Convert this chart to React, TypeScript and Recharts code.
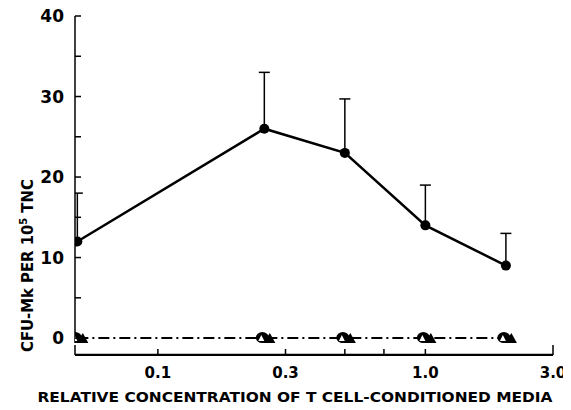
import React from 'react';
import { ComposedChart, Line, XAxis, YAxis, ErrorBar, ReferenceLine } from 'recharts';

const concentrations = [0.05, 0.25, 0.5, 1.0, 2.0];
const cfuMk = [12, 26, 23, 14, 9];
const cfuMkError = [6, 7, 6.7, 5, 4];
const controlCfuMk = [0, 0, 0, 0, 0];
const xTicks = [0.049, 0.1, 0.3, 0.5, 0.7, 1.0, 3.0];
const xTickLabels = ['', '0.1', '0.3', '', '', '1.0', '3.0'];
const yTicks = [0, 5, 10, 15, 20, 25, 30, 35, 40];
const yTickLabels = ['0', '', '10', '', '20', '', '30', '', '40'];

const Y_MIN = -2.6;
const X_AXIS_Y = -2.1;
const X_MIN = 0.049;
const X_MAX = 3.0;

const data = concentrations.map((x, i) => ({
  x,
  y: cfuMk[i],
  err: [0, cfuMkError[i]],
  top: cfuMk[i] + cfuMkError[i],
  ctrl: controlCfuMk[i],
}));

const FONT = '"DejaVu Sans", sans-serif';

const YTick = (props: any) => {
  const { x, y, index } = props;
  const label = yTickLabels[index];
  return (
    <g>
      <line x1={x} y1={y} x2={x + 6} y2={y} stroke="#000" strokeWidth={1.5} />
      {label ? (
        <text x={x - 11} y={y} dy="0.36em" textAnchor="end" fontFamily={FONT} fontWeight="bold" fontSize={17} fill="#000">
          {label}
        </text>
      ) : null}
    </g>
  );
};

const XTick = (props: any) => {
  const { x, y, index } = props;
  const label = xTickLabels[index];
  const len = index === 0 || index === xTicks.length - 1 ? 10 : 6;
  return (
    <g>
      <line x1={x} y1={y - 4} x2={x} y2={y - 4 - len} stroke="#000" strokeWidth={1.5} />
      {label ? (
        <text x={x} y={y + 19} textAnchor="middle" fontFamily={FONT} fontWeight="bold" fontSize={15} fill="#000">
          {label}
        </text>
      ) : null}
    </g>
  );
};

const XLabel = () => (
  <text x={287} y={402} textAnchor="middle" fontFamily={FONT} fontWeight="bold" fontSize={14.5} fill="#000" textLength={515} lengthAdjust="spacingAndGlyphs">
    RELATIVE CONCENTRATION OF T CELL-CONDITIONED MEDIA
  </text>
);

const YLabel = () => (
  <text transform="translate(25, 352) rotate(-90) scale(0.9, 1)" x={0} y={0} textAnchor="start" fontFamily={FONT} fontWeight="bold" fontSize={16.5} fill="#000">
    CFU-Mk PER 10<tspan dy={-6} fontSize={11}>5</tspan><tspan dy={6}> TNC</tspan>
  </text>
);

const MainDot = (props: any) => {
  const { cx, cy } = props;
  if (cx == null || cy == null) return null;
  return <circle cx={cx} cy={cy} r={5} fill="#000" />;
};

const CapDot = (props: any) => {
  const { cx, cy } = props;
  if (cx == null || cy == null) return null;
  return <line x1={cx - 5.5} y1={cy} x2={cx + 5.5} y2={cy} stroke="#000" strokeWidth={1.5} />;
};

const CtrlDot = (props: any) => {
  const { cx, cy } = props;
  if (cx == null || cy == null) return null;
  return (
    <g>
      <ellipse cx={cx - 2} cy={cy - 0.5} rx={6.5} ry={5.5} fill="#000" />
      <polygon points={`${cx - 6},${cy + 3} ${cx - 3},${cy - 3} ${cx},${cy + 3}`} fill="#fff" />
      <polygon points={`${cx - 1},${cy + 5} ${cx + 5.5},${cy - 5} ${cx + 11},${cy + 5}`} fill="#000" />
    </g>
  );
};

export default function App() {
  return (
    <div style={{ marginTop: -8 }}>
      <ComposedChart
        width={571}
        height={410}
        data={data}
        margin={{ top: 16, right: 26, bottom: 21, left: 7 }}
      >
        <XAxis
          dataKey="x"
          type="number"
          scale="log"
          domain={[X_MIN, X_MAX]}
          allowDataOverflow
          ticks={xTicks}
          interval={0}
          tickSize={0}
          tickMargin={0}
          tickLine={false}
          tick={<XTick />}
          axisLine={false}
          height={30}
          label={{ content: <XLabel /> }}
        />
        <YAxis
          type="number"
          domain={[Y_MIN, 40]}
          allowDataOverflow
          ticks={yTicks}
          interval={0}
          tickSize={0}
          tickMargin={0}
          tickLine={false}
          tick={<YTick />}
          axisLine={false}
          width={60}
          label={{ content: <YLabel /> }}
        />
        <ReferenceLine
          segment={[{ x: X_MIN, y: -0.6 }, { x: X_MIN, y: 40 }]}
          stroke="#000"
          strokeWidth={1.5}
          ifOverflow="visible"
        />
        <ReferenceLine
          segment={[{ x: X_MIN, y: X_AXIS_Y }, { x: X_MAX, y: X_AXIS_Y }]}
          stroke="#000"
          strokeWidth={2.2}
          ifOverflow="visible"
        />
        <Line
          dataKey="ctrl"
          stroke="#000"
          strokeWidth={2}
          strokeDasharray="11 4 2 4"
          dot={<CtrlDot />}
          activeDot={false}
          isAnimationActive={false}
        />
        <Line
          dataKey="top"
          stroke="none"
          dot={<CapDot />}
          activeDot={false}
          isAnimationActive={false}
        />
        <Line
          dataKey="y"
          stroke="#000"
          strokeWidth={2.5}
          dot={<MainDot />}
          activeDot={false}
          isAnimationActive={false}
        >
          <ErrorBar dataKey="err" direction="y" width={0} stroke="#000" strokeWidth={1.5} />
        </Line>
      </ComposedChart>
    </div>
  );
}
